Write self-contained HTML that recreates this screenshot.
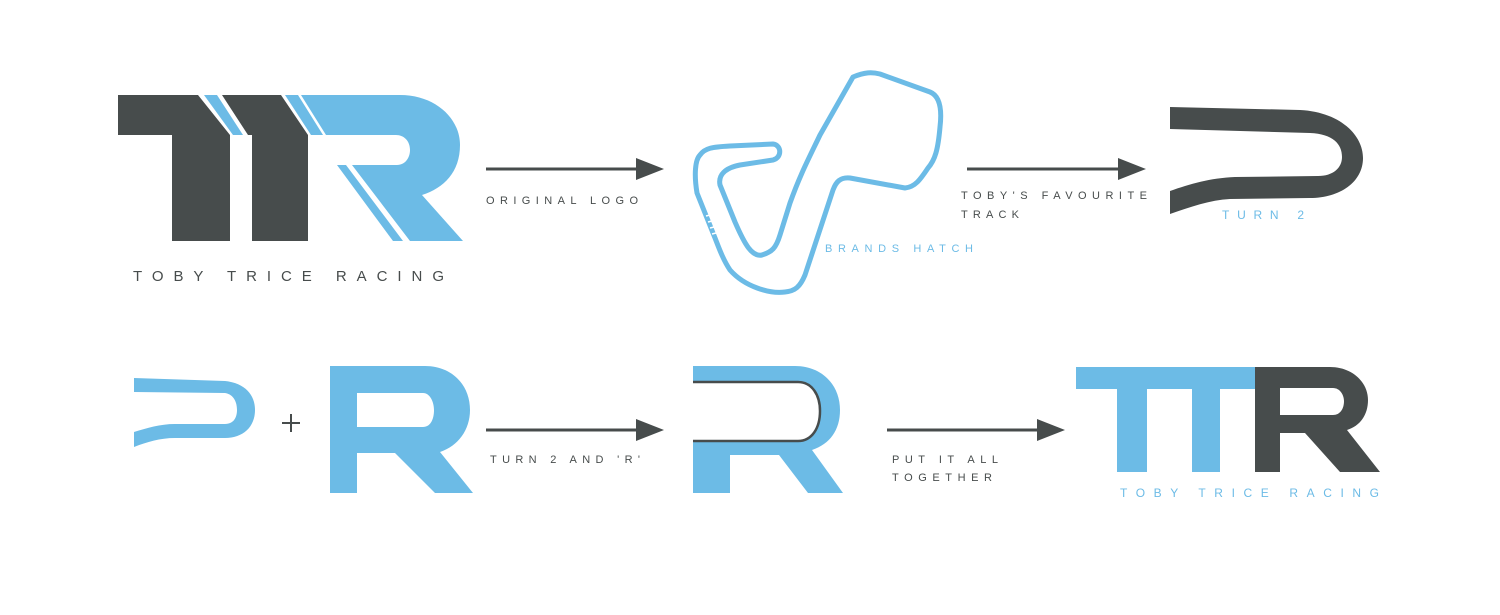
<!DOCTYPE html>
<html><head><meta charset="utf-8"><style>html,body{margin:0;padding:0;background:#fff}svg{display:block}</style></head>
<body>
<svg width="1500" height="615" viewBox="0 0 1500 615" xmlns="http://www.w3.org/2000/svg" font-family="Liberation Sans, sans-serif">
<rect width="1500" height="615" fill="#fff"/>
<g fill="#474c4c">
<polygon points="118,95 198,95 230,135 230,241 172,241 172,135 118,135"/>
<polygon points="222,95 281,95 308,135 308,241 252,241 252,135 248,135"/>
</g>
<g fill="#6cbbe6">
<polygon points="204,95 217,95 243,135 233,135"/>
<polygon points="285,95 298,95 323,135 311,135"/>
<path d="M301,95 L400,95 C435,95 460,118 460,145 C460,172 444,188 422,195 L463,241 L410,241 L352,165 L397,165 C405,165 410,158 410,150 C410,141 404,135 396,135 L326,135 Z"/>
<polygon points="337,165 346,165 403,241 393,241"/>
</g>
<text x="133" y="281" font-size="15" fill="#474c4c" textLength="311" lengthAdjust="spacing">TOBY TRICE RACING</text>

<g stroke="#474c4c" stroke-width="3"><line x1="486" y1="169" x2="645" y2="169"/><line x1="967" y1="169" x2="1128" y2="169"/><line x1="486" y1="430" x2="645" y2="430"/><line x1="887" y1="430" x2="1046" y2="430"/></g>
<g fill="#474c4c"><polygon points="636,158 664,169 636,180"/><polygon points="1118,158 1146,169 1118,180"/><polygon points="636,419 664,430 636,441"/><polygon points="1037,419 1065,430 1037,441"/></g>
<g font-size="11" fill="#474c4c">
<text x="486" y="204" textLength="152" lengthAdjust="spacing">ORIGINAL LOGO</text>
<text x="961" y="199" textLength="186" lengthAdjust="spacing">TOBY'S FAVOURITE</text>
<text x="961" y="218" textLength="58" lengthAdjust="spacing">TRACK</text>
<text x="490" y="463" textLength="150" lengthAdjust="spacing">TURN 2 AND 'R'</text>
<text x="892" y="463" textLength="106" lengthAdjust="spacing">PUT IT ALL</text>
<text x="892" y="481" textLength="100" lengthAdjust="spacing">TOGETHER</text>
</g>

<path d="M853,77 C865,72 872,72 880,74 L930,92 C940,96 942,110 940,127 C938,150 935,160 928,168 C920,180 915,187 905,188 L850,178 C840,177 836,182 833,190 L805,275 C800,287 795,291 785,292 C770,294 745,287 730,270 C722,258 718,245 713,233 L697,193 C694,175 695,160 700,155 C705,148 712,147 730,146 L773,144 C782,145 782,158 773,160 L740,165 C725,168 718,175 720,185 L735,222 C745,245 752,257 762,255 C772,252 776,248 780,235 L790,203 C800,175 808,160 820,135 Z" fill="none" stroke="#6cbbe6" stroke-width="5" stroke-linejoin="round"/>
<g stroke="#fff" stroke-width="1.5"><line x1="706" y1="216" x2="714" y2="214"/><line x1="708" y1="222" x2="716" y2="220"/><line x1="710" y1="228" x2="718" y2="226"/><line x1="712" y1="234" x2="720" y2="232"/></g>
<text x="825" y="252" font-size="11" fill="#6cbbe6" textLength="148" lengthAdjust="spacing">BRANDS HATCH</text>

<path d="M1170,107 L1300,110 C1340,112 1363,135 1363,158 C1363,182 1340,198 1310,198 L1230,199 C1210,200 1190,207 1170,214 L1170,191 C1190,184 1210,178 1235,177 L1318,176 C1333,176 1342,168 1342,157 C1342,144 1333,134 1310,133 L1170,129 Z" fill="#474c4c"/>
<text x="1222" y="219" font-size="12" fill="#6cbbe6" textLength="82" lengthAdjust="spacing">TURN 2</text>

<path d="M134,378 L225,381 C245,383 255,395 255,410 C255,427 243,438 225,438 L175,438 C160,438 147,442 134,447 L134,432 C147,428 160,424 175,424 L225,424 C234,424 237,417 237,410 C237,400 232,394 225,393 L134,392 Z" fill="#6cbbe6"/>
<g stroke="#474c4c" stroke-width="2"><line x1="282" y1="423" x2="300" y2="423"/><line x1="291" y1="414" x2="291" y2="432"/></g>
<path fill-rule="evenodd" fill="#6cbbe6" d="M330,366 L425,366 C452,366 470,385 470,410 C470,430 458,446 440,452 L473,493 L435,493 L395,453 L357,453 L357,493 L330,493 Z M357,393 L423,393 C430,393 434,402 434,410 C434,420 430,427 423,427 L357,427 Z"/>

<path fill-rule="evenodd" fill="#6cbbe6" d="M693,366 L795,366 C822,366 840,385 840,410 C840,430 830,444 812,450 L843,493 L808,493 L779,455 L730,455 L730,493 L693,493 Z M693,382 L798,382 C812,382 820,395 820,411 C820,428 812,441 798,441 L693,441 Z"/>
<path d="M693,382 L798,382 C812,382 820,395 820,411 C820,428 812,441 798,441 L693,441" fill="none" stroke="#474c4c" stroke-width="2.5"/>

<g fill="#6cbbe6"><rect x="1076" y="367" width="179" height="22"/><rect x="1117" y="367" width="30" height="105"/><rect x="1192" y="367" width="28" height="105"/></g>
<path fill-rule="evenodd" fill="#474c4c" d="M1255,367 L1330,367 C1352,367 1368,382 1368,400 C1368,415 1360,426 1347,430 L1380,472 L1340,472 L1305,433 L1280,433 L1280,472 L1255,472 Z M1280,388 L1333,388 C1340,388 1344,395 1344,401 C1344,409 1340,415 1333,415 L1280,415 Z"/>
<text x="1120" y="497" font-size="12" fill="#6cbbe6" textLength="259" lengthAdjust="spacing">TOBY TRICE RACING</text>
</svg>
</body></html>
